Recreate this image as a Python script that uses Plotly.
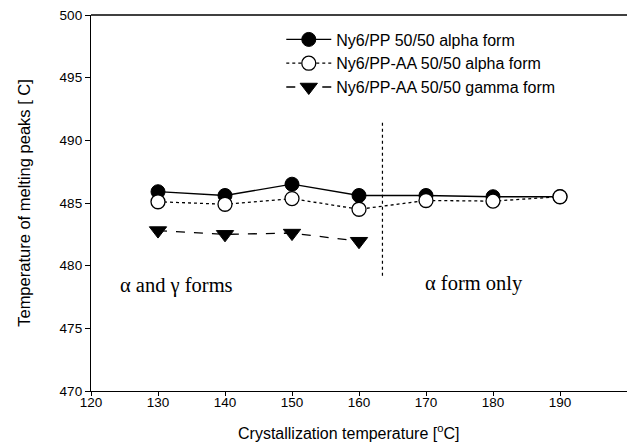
import plotly.graph_objects as go

x_alpha = [130, 140, 150, 160, 170, 180, 190]
ny6pp_alpha = [485.9, 485.6, 486.5, 485.6, 485.6, 485.5, 485.5]
ny6ppaa_alpha = [485.1, 484.9, 485.35, 484.5, 485.2, 485.15, 485.5]
x_gamma = [130, 140, 150, 160]
ny6ppaa_gamma = [482.8, 482.5, 482.6, 481.95]

x_ticks = [120, 130, 140, 150, 160, 170, 180, 190]
y_ticks = [470, 475, 480, 485, 490, 495, 500]

fig = go.Figure()
fig.add_trace(go.Scatter(
    x=x_alpha, y=ny6pp_alpha, mode="lines+markers",
    name="Ny6/PP 50/50 alpha form",
    line=dict(color="black", width=1.3),
    marker=dict(symbol="circle", size=14, color="black", line=dict(color="black", width=1))))
fig.add_trace(go.Scatter(
    x=x_alpha, y=ny6ppaa_alpha, mode="lines+markers",
    name="Ny6/PP-AA 50/50 alpha form",
    line=dict(color="black", width=1.3, dash="dot"),
    marker=dict(symbol="circle", size=14, color="white", line=dict(color="black", width=1.3))))
fig.add_trace(go.Scatter(
    x=x_gamma, y=ny6ppaa_gamma, mode="lines+markers",
    name="Ny6/PP-AA 50/50 gamma form",
    line=dict(color="black", width=1.3, dash="dash"),
    marker=dict(symbol="triangle-down", size=15, color="black", line=dict(color="black", width=1))))

# vertical dotted separator
fig.add_shape(type="line", x0=163.5, x1=163.5, y0=479.2, y1=491.6, xref="x", yref="y",
              line=dict(color="black", width=1.2, dash="dot"))

serif = "Liberation Serif, Times New Roman, serif"
fig.add_annotation(x=132.8, y=478.45, text="α and γ forms", showarrow=False,
                   font=dict(family=serif, size=20.5, color="black"))
fig.add_annotation(x=177.1, y=478.6, text="α form only", showarrow=False,
                   font=dict(family=serif, size=20.5, color="black"))

# x-axis title (slightly left of centre, as in the reference)
fig.add_annotation(xref="paper", yref="paper", x=0.48, y=-0.11, xanchor="center", yanchor="middle",
                   text="Crystallization temperature [<sup>o</sup>C]", showarrow=False,
                   font=dict(size=16, color="black"))

fig.update_layout(
    width=628, height=443,
    margin=dict(l=91, r=1, t=15, b=52),
    paper_bgcolor="white", plot_bgcolor="white",
    font=dict(family="Liberation Sans, Arial, sans-serif", color="black", size=13),
    showlegend=True,
    legend=dict(x=0.355, y=0.98, xanchor="left", yanchor="top",
                bgcolor="rgba(0,0,0,0)", font=dict(size=16), itemwidth=45,
                tracegroupgap=0),
)
fig.update_xaxes(range=[120, 200], tickvals=x_ticks, ticktext=[str(v) for v in x_ticks],
                 showgrid=False, zeroline=False, showline=True, linecolor="black", linewidth=1.3,
                 mirror=False, ticks="outside", ticklen=4, tickcolor="black",
                 ticklabelstandoff=-5, tickfont=dict(size=13.5))
fig.update_yaxes(range=[470, 500], tickvals=y_ticks, ticktext=[str(v) for v in y_ticks],
                 showgrid=False, zeroline=False, showline=True, linecolor="black", linewidth=1.3,
                 ticks="outside", ticklen=5, tickcolor="black", tickfont=dict(size=13.5),
                 title=dict(text="Temperature of melting peaks [ C]", font=dict(size=16.5), standoff=24))
# top frame line
fig.add_shape(type="line", xref="paper", yref="paper", x0=0, x1=1, y0=1, y1=1,
              line=dict(color="black", width=1.3))

fig.write_html("out.html")
